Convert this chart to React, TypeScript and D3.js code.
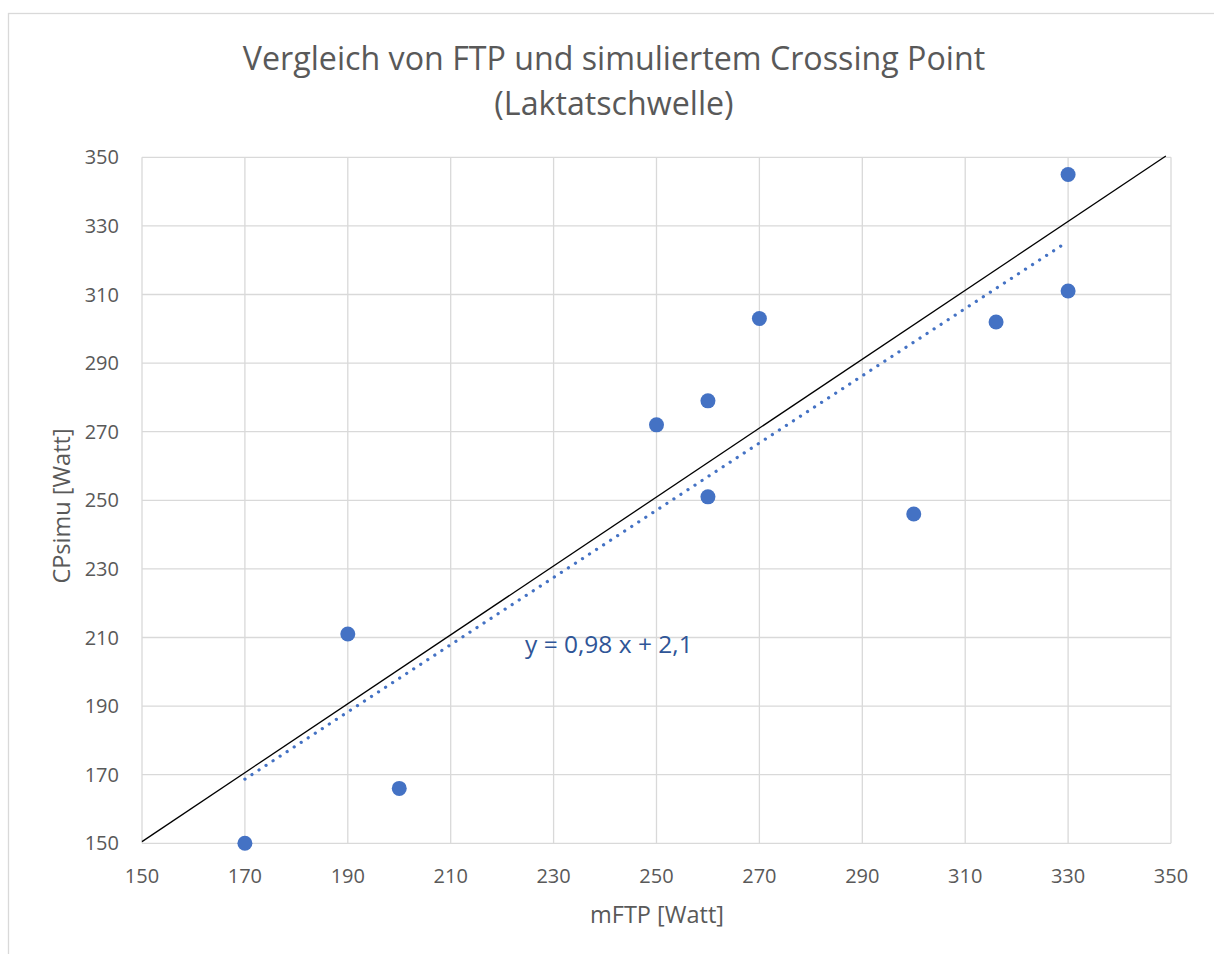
import { useEffect, useRef } from 'react';
import * as d3 from 'd3';

const TITLE_LINES = ['Vergleich von FTP und simuliertem Crossing Point', '(Laktatschwelle)'];
const X_LABEL = 'mFTP [Watt]';
const Y_LABEL = 'CPsimu [Watt]';
const X_TICKS = [150, 170, 190, 210, 230, 250, 270, 290, 310, 330, 350];
const Y_TICKS = [150, 170, 190, 210, 230, 250, 270, 290, 310, 330, 350];

// measured points (mFTP, CPsimu)
const FTP = [170, 190, 200, 250, 260, 260, 270, 300, 316, 330, 330];
const CP = [150, 211, 166, 272, 279, 251, 303, 246, 302, 345, 311];

// identity reference line endpoints
const IDENT_X = [150, 349];
const IDENT_Y = [150.5, 350.4];

// linear trend y = 0,98 x + 2,1
const TREND_SLOPE = 0.98;
const TREND_ICPT = 2.1;
const TREND_X = [170, 329];
const TREND_LABEL = 'y = 0,98 x + 2,1';

const FONT = '"Open Sans", "Liberation Sans", sans-serif';
const TEXT = '#595959';
const GRID = '#D9D9D9';
const BLUE = '#4472C4';

export default function App() {
  const svgRef = useRef<SVGSVGElement>(null);

  useEffect(() => {
    const svg = d3.select(svgRef.current!);
    svg.selectAll('*').remove();

    const x = d3.scaleLinear().domain([150, 350]).range([142, 1171]);
    const y = d3.scaleLinear().domain([150, 350]).range([843.3, 157.3]);

    // chart frame
    svg.append('rect')
      .attr('x', 8.5).attr('y', 13.5).attr('width', 1220).attr('height', 960)
      .attr('fill', '#fff').attr('stroke', GRID).attr('stroke-width', 1.3);

    // grid
    const g = svg.append('g');
    g.selectAll('.vx').data(X_TICKS).join('line')
      .attr('x1', (d) => x(d)).attr('x2', (d) => x(d))
      .attr('y1', y(150)).attr('y2', y(350))
      .attr('stroke', GRID).attr('stroke-width', 1.3);
    g.selectAll('.hy').data(Y_TICKS).join('line')
      .attr('x1', x(150)).attr('x2', x(350))
      .attr('y1', (d) => y(d)).attr('y2', (d) => y(d))
      .attr('stroke', GRID).attr('stroke-width', 1.3);

    // tick labels
    g.selectAll('.xt').data(X_TICKS).join('text')
      .attr('x', (d) => x(d)).attr('y', 883)
      .attr('text-anchor', 'middle').attr('font-family', FONT).attr('font-size', 20)
      .attr('fill', TEXT).text((d) => String(d));
    g.selectAll('.yt').data(Y_TICKS).join('text')
      .attr('x', 119).attr('y', (d) => y(d)).attr('dy', '0.35em')
      .attr('text-anchor', 'end').attr('font-family', FONT).attr('font-size', 20)
      .attr('fill', TEXT).text((d) => String(d));

    // identity line
    svg.append('line')
      .attr('x1', x(IDENT_X[0])).attr('y1', y(IDENT_Y[0]))
      .attr('x2', x(IDENT_X[1])).attr('y2', y(IDENT_Y[1]))
      .attr('stroke', '#000').attr('stroke-width', 1.3);

    // trend line (dotted)
    svg.append('line')
      .attr('x1', x(TREND_X[0])).attr('y1', y(TREND_SLOPE * TREND_X[0] + TREND_ICPT))
      .attr('x2', x(TREND_X[1])).attr('y2', y(TREND_SLOPE * TREND_X[1] + TREND_ICPT))
      .attr('stroke', BLUE).attr('stroke-width', 3.2)
      .attr('stroke-linecap', 'round').attr('stroke-dasharray', '0.1 8.3');

    // points
    svg.selectAll('.pt').data(FTP.map((f, i) => [f, CP[i]])).join('circle')
      .attr('cx', (d) => x(d[0])).attr('cy', (d) => y(d[1])).attr('r', 7.5)
      .attr('fill', BLUE);

    // trend label
    svg.append('text')
      .attr('x', 525).attr('y', 653)
      .attr('font-family', FONT).attr('font-size', 24.5).attr('fill', '#2F5597')
      .text(TREND_LABEL);

    // title
    svg.selectAll('.title').data(TITLE_LINES).join('text')
      .attr('x', 614).attr('y', (_d, i) => 70 + i * 45)
      .attr('text-anchor', 'middle').attr('font-family', FONT).attr('font-size', 32.2)
      .attr('fill', TEXT).text((d) => d);

    // axis titles
    svg.append('text')
      .attr('x', 657).attr('y', 923)
      .attr('text-anchor', 'middle').attr('font-family', FONT).attr('font-size', 23.5)
      .attr('fill', TEXT).text(X_LABEL);
    svg.append('text')
      .attr('transform', 'translate(70,506) rotate(-90)')
      .attr('text-anchor', 'middle').attr('font-family', FONT).attr('font-size', 23.5)
      .attr('fill', TEXT).text(Y_LABEL);
  }, []);

  return (
    <svg
      ref={svgRef}
      width={1214}
      height={954}
      style={{ position: 'absolute', left: 0, top: 0, background: '#fff' }}
    />
  );
}
